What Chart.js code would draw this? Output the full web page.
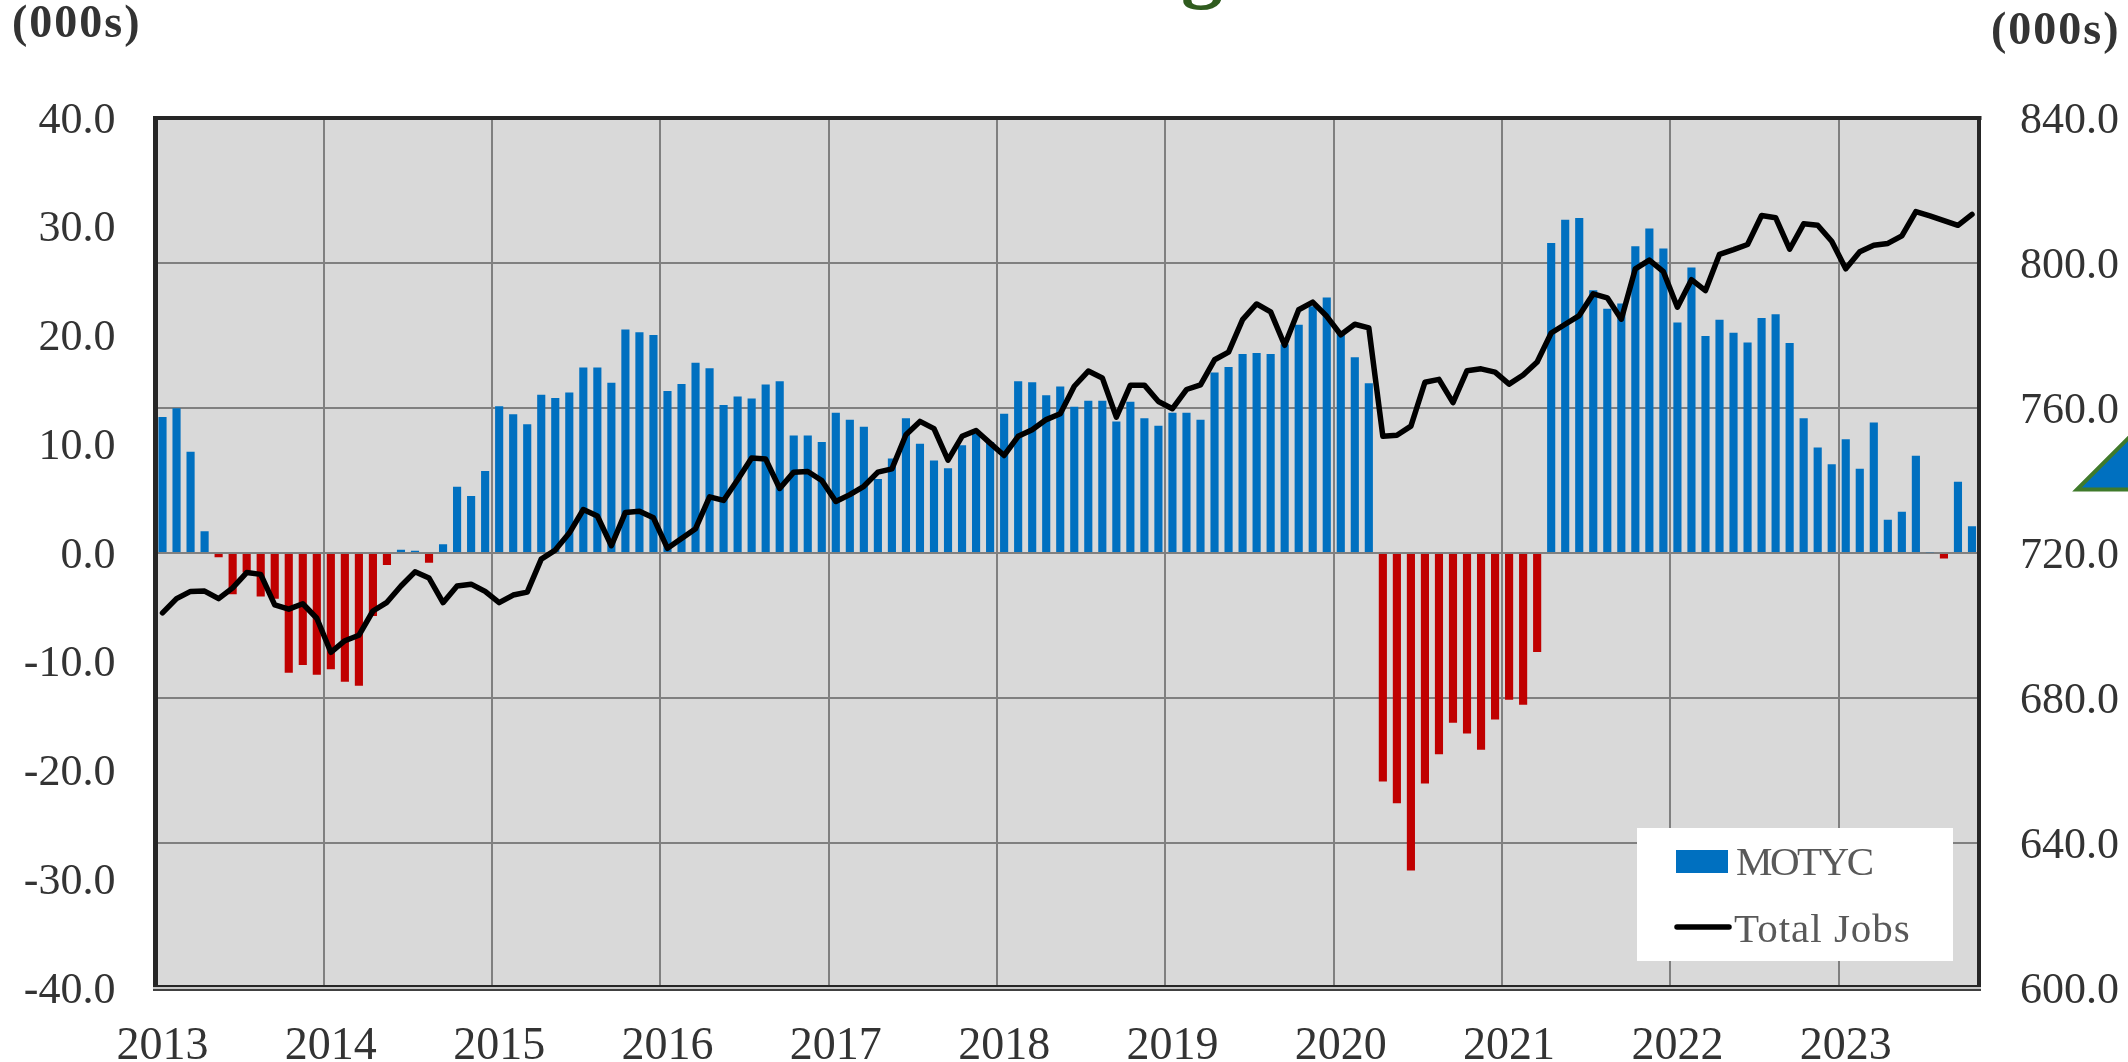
<!DOCTYPE html>
<html><head><meta charset="utf-8">
<style>html,body{margin:0;padding:0;background:#fff;overflow:hidden}canvas{display:block}</style>
<script src="https://cdn.jsdelivr.net/npm/chart.js@4"></script></head>
<body><canvas id="c" width="2128" height="1062"></canvas>
<script>
const years=[2013,2014,2015,2016,2017,2018,2019,2020,2021,2022,2023];
const monthNames=['Jan','Feb','Mar','Apr','May','Jun','Jul','Aug','Sep','Oct','Nov','Dec'];
const motyc=[12.5,13.3,9.3,2.0,-0.4,-3.8,-1.8,-4.0,-4.2,-11.0,-10.3,-11.2,
-10.7,-11.85,-12.2,-5.8,-1.1,0.3,0.2,-0.9,0.8,6.1,5.25,7.55,
13.5,12.75,11.85,14.55,14.25,14.75,17.05,17.05,15.65,20.55,20.3,20.05,
14.9,15.55,17.5,17.0,13.6,14.4,14.2,15.5,15.8,10.8,10.8,10.2,
12.9,12.25,11.6,6.8,8.7,12.4,10.05,8.5,7.8,9.9,11.0,10.2,
12.8,15.8,15.7,14.5,15.3,13.45,14.0,14.0,12.1,13.9,12.4,11.7,
12.9,12.9,12.25,16.6,17.1,18.3,18.4,18.3,19.2,21.0,22.7,23.5,
20.3,18.0,15.6,-21.0,-23.0,-29.2,-21.2,-18.5,-15.6,-16.6,-18.1,-15.3,
-13.5,-13.95,-9.1,28.5,30.65,30.8,24.15,22.45,22.95,28.2,29.85,28.0,
21.2,26.25,19.95,21.45,20.25,19.35,21.6,21.95,19.3,12.4,9.7,8.15,
10.45,7.75,12.0,3.05,3.8,8.95,0.07,-0.5,6.55,2.45];
const totalJobs=[703.5,707.4,709.4,709.5,707.4,710.4,714.6,714.1,705.7,704.5,706.0,702.0,
692.6,695.8,697.3,704.0,706.4,710.9,714.8,713.1,706.3,710.9,711.4,709.4,
706.3,708.4,709.2,718.3,720.8,725.5,732.0,730.2,722.0,731.2,731.5,729.7,
721.3,724.0,726.7,735.5,734.5,740.2,746.2,745.9,737.8,742.3,742.5,740.0,
734.2,736.1,738.4,742.3,743.2,752.6,756.3,754.3,745.6,752.2,753.8,750.3,
746.9,752.2,754.0,756.8,758.4,766.0,770.2,768.3,757.5,766.3,766.3,761.8,
759.8,765.1,766.4,773.3,775.4,784.4,788.7,786.5,777.3,787.1,789.2,785.3,
780.2,783.1,782.1,752.2,752.5,755.0,767.1,767.9,761.5,770.3,770.8,769.9,
766.6,769.1,772.7,780.7,783.1,785.5,791.5,790.4,784.5,798.4,800.8,797.6,
787.8,795.4,792.4,802.4,803.7,805.1,813.1,812.5,803.8,810.8,810.4,806.0,
798.4,803.1,804.9,805.4,807.5,814.2,813.0,811.7,810.4,813.4];
const categories=[];
years.forEach(y=>monthNames.forEach(m=>{if(categories.length<motyc.length)categories.push(m+' '+y);}));
const seriesNames=['MOTYC','Total Jobs'];
const unitLabel='(000s)';
const titleFragment='g';

const FONT='"Liberation Serif", serif';
const BLUE='#0070C0',RED='#C00000',GRID='#808080',FRAME='#262626',TEXT='#333333',PLOT='#D9D9D9';

const decorations={
  id:'decorations',
  beforeDraw(chart){
    const c=chart.ctx,a=chart.chartArea;
    c.save();c.fillStyle=PLOT;c.fillRect(a.left,a.top,a.right-a.left,a.bottom-a.top);c.restore();
  },
  afterDraw(chart){
    const c=chart.ctx,a=chart.chartArea;
    c.save();
    // frame
    c.fillStyle=FRAME;
    c.fillRect(a.left-2.5,a.top-2,a.right-a.left+5,4);
    c.fillRect(a.left-2.5,a.top-2,5,a.bottom-a.top+5);
    c.fillRect(a.right-2,a.top-2,4,a.bottom-a.top+5);
    c.fillRect(a.left,a.bottom-3,a.right-a.left,2);
    c.fillStyle='#c8c8c8';
    c.fillRect(a.left-2.5,a.bottom-1,a.right-a.left+4.5,2);
    c.fillStyle='#404040';
    c.fillRect(a.left-2.5,a.bottom+1,a.right-a.left+4.5,2);
    // legend
    c.fillStyle='#fff';
    c.fillRect(1637,828,316,133);
    c.fillStyle=BLUE;
    c.fillRect(1676,850,52,23);
    c.strokeStyle='#000';c.lineWidth=5.5;c.lineCap='round';
    c.beginPath();c.moveTo(1677,927);c.lineTo(1729,927);c.stroke();
    c.fillStyle='#595959';c.textBaseline='alphabetic';c.textAlign='left';
    c.font='41px '+FONT;
    c.letterSpacing='-2.5px';
    c.fillText(seriesNames[0],1736,875);
    c.letterSpacing='1px';
    c.fillText(seriesNames[1],1734,942);
    // unit labels
    c.fillStyle=TEXT;c.font='bold 46px '+FONT;c.letterSpacing='2px';
    c.fillText(unitLabel,12,37);
    c.fillText(unitLabel,1991,44);
    c.letterSpacing='0px';
    // cropped title fragment
    c.fillStyle='#2F5B1E';c.font='bold 84px '+FONT;c.textAlign='center';
    c.fillText(titleFragment,1202,-8);
    // cropped triangle on right edge
    c.fillStyle=BLUE;c.strokeStyle='#3F7A2B';c.lineWidth=4;c.lineJoin='miter';c.lineCap='butt';
    c.beginPath();c.moveTo(2077,489.5);c.lineTo(2140,489.5);c.lineTo(2140,426.5);c.closePath();c.fill();c.stroke();
    c.restore();
  }
};

// a blank first line nudges the value labels down to sit as in the reference
const valueTick=v=>['',v.toFixed(1)];

new Chart(document.getElementById('c'),{
  data:{labels:categories,datasets:[
    {type:'line',label:seriesNames[1],data:totalJobs,yAxisID:'y1',order:1,borderColor:'#000',borderWidth:5.5,
     pointRadius:0,tension:0,borderJoinStyle:'round',borderCapStyle:'round',fill:false,clip:false},
    {type:'bar',label:seriesNames[0],data:motyc,yAxisID:'y',order:2,barPercentage:0.58,categoryPercentage:1,
     backgroundColor:ctx=>ctx.raw<0?RED:BLUE,borderWidth:0}
  ]},
  plugins:[decorations],
  options:{
    responsive:false,animation:false,devicePixelRatio:1,
    layout:{padding:{top:118,left:0,right:0,bottom:0}},
    plugins:{legend:{display:false},tooltip:{enabled:false},title:{display:false}},
    scales:{
      x:{type:'category',offset:true,
        grid:{offset:true,drawTicks:false,lineWidth:2,color:ctx=>(ctx.index%12===0?GRID:'rgba(0,0,0,0)')},
        border:{display:false},
        ticks:{autoSkip:false,maxRotation:0,minRotation:0,padding:31,color:TEXT,font:{family:FONT,size:46},
          callback(v,i){return i%12===0?years[i/12]:'';}},
        afterFit(s){s.height=74;}},
      y:{type:'linear',position:'left',min:-40,max:40,
        grid:{drawTicks:false,lineWidth:2,color:ctx=>ctx.tick&&ctx.tick.value===0?'#a0a0a0':'rgba(0,0,0,0)'},
        border:{display:false},
        ticks:{stepSize:10,padding:40,color:TEXT,font:{family:FONT,size:44,lineHeight:6/44},callback:valueTick},
        afterFit(s){s.width=155.5;}},
      y1:{type:'linear',position:'right',min:600,max:840,
        grid:{drawTicks:false,lineWidth:2,color:GRID},
        border:{display:false},
        ticks:{stepSize:40,padding:41,color:TEXT,font:{family:FONT,size:44,lineHeight:6/44},callback:valueTick},
        afterFit(s){s.width=149;}}
    }
  }
});
</script></body></html>
